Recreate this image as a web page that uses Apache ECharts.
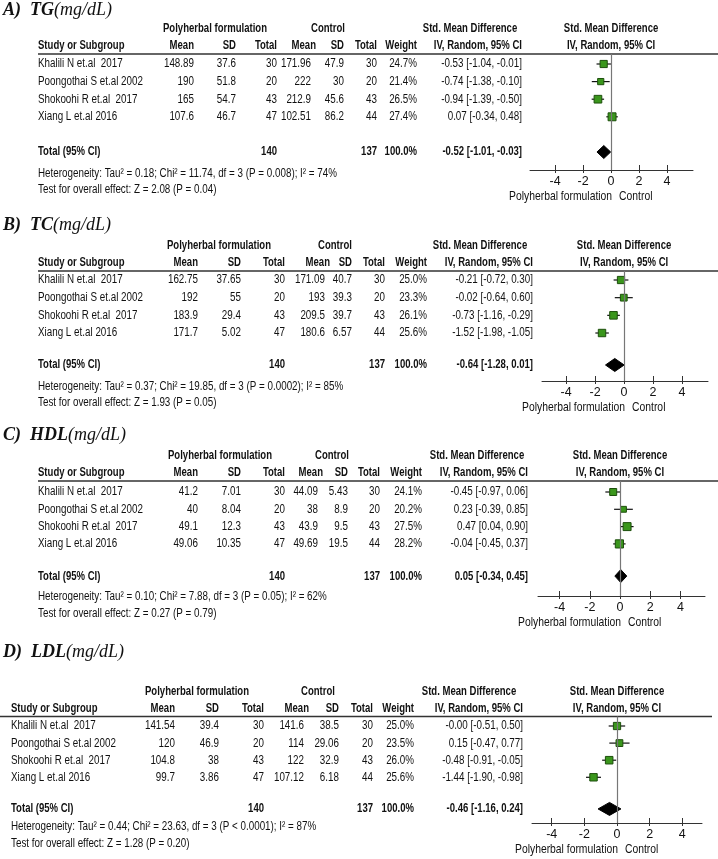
<!DOCTYPE html>
<html>
<head>
<meta charset="utf-8">
<script src="https://cdn.jsdelivr.net/npm/echarts@6/dist/echarts.min.js"></script>
<style>html,body{margin:0;padding:0;background:#fff}#c{width:718px;height:859px}</style>
</head>
<body>
<div id="c"></div>
<script>
// ---------------- DATA ----------------
const studies = ["Khalili N et.al  2017", "Poongothai S et.al 2002", "Shokoohi R et.al  2017", "Xiang L et.al 2016"];
const polyN = [30, 20, 43, 47];
const ctrlN = [30, 20, 43, 44];
const totalPolyN = 140;
const totalCtrlN = 137;
const tickValues = [-4, -2, 0, 2, 4];

const panelTitles = [["A)", "TG", "(mg/dL)"], ["B)", "TC", "(mg/dL)"], ["C)", "HDL", "(mg/dL)"], ["D)", "LDL", "(mg/dL)"]];

// TG
const tgPolyMean = [148.89, 190, 165, 107.6];
const tgPolySD = [37.6, 51.8, 54.7, 46.7];
const tgCtrlMean = [171.96, 222, 212.9, 102.51];
const tgCtrlSD = [47.9, 30, 45.6, 86.2];
const tgWeight = [24.7, 21.4, 26.5, 27.4];
const tgSMD = [-0.53, -0.74, -0.94, 0.07];
const tgLo = [-1.04, -1.38, -1.39, -0.34];
const tgHi = [-0.01, -0.10, -0.50, 0.48];
const tgTotal = [-0.52, -1.01, -0.03];
const tgHet = "Heterogeneity: Tau² = 0.18; Chi² = 11.74, df = 3 (P = 0.008); I² = 74%";
const tgTest = "Test for overall effect: Z = 2.08 (P = 0.04)";

// TC
const tcPolyMean = [162.75, 192, 183.9, 171.7];
const tcPolySD = [37.65, 55, 29.4, 5.02];
const tcCtrlMean = [171.09, 193, 209.5, 180.6];
const tcCtrlSD = [40.7, 39.3, 39.7, 6.57];
const tcWeight = [25.0, 23.3, 26.1, 25.6];
const tcSMD = [-0.21, -0.02, -0.73, -1.52];
const tcLo = [-0.72, -0.64, -1.16, -1.98];
const tcHi = [0.30, 0.60, -0.29, -1.05];
const tcTotal = [-0.64, -1.28, 0.01];
const tcHet = "Heterogeneity: Tau² = 0.37; Chi² = 19.85, df = 3 (P = 0.0002); I² = 85%";
const tcTest = "Test for overall effect: Z = 1.93 (P = 0.05)";

// HDL
const hdlPolyMean = [41.2, 40, 49.1, 49.06];
const hdlPolySD = [7.01, 8.04, 12.3, 10.35];
const hdlCtrlMean = [44.09, 38, 43.9, 49.69];
const hdlCtrlSD = [5.43, 8.9, 9.5, 19.5];
const hdlWeight = [24.1, 20.2, 27.5, 28.2];
const hdlSMD = [-0.45, 0.23, 0.47, -0.04];
const hdlLo = [-0.97, -0.39, 0.04, -0.45];
const hdlHi = [0.06, 0.85, 0.90, 0.37];
const hdlTotal = [0.05, -0.34, 0.45];
const hdlHet = "Heterogeneity: Tau² = 0.10; Chi² = 7.88, df = 3 (P = 0.05); I² = 62%";
const hdlTest = "Test for overall effect: Z = 0.27 (P = 0.79)";

// LDL
const ldlPolyMean = [141.54, 120, 104.8, 99.7];
const ldlPolySD = [39.4, 46.9, 38, 3.86];
const ldlCtrlMean = [141.6, 114, 122, 107.12];
const ldlCtrlSD = [38.5, 29.06, 32.9, 6.18];
const ldlWeight = [25.0, 23.5, 26.0, 25.6];
const ldlSMD = [-0.00, 0.15, -0.48, -1.44];
const ldlLo = [-0.51, -0.47, -0.91, -1.90];
const ldlHi = [0.50, 0.77, -0.05, -0.98];
const ldlTotal = [-0.46, -1.16, 0.24];
const ldlHet = "Heterogeneity: Tau² = 0.44; Chi² = 23.63, df = 3 (P < 0.0001); I² = 87%";
const ldlTest = "Test for overall effect: Z = 1.28 (P = 0.20)";

const panelData = [
  {pm: tgPolyMean, ps: tgPolySD, cm: tgCtrlMean, cs: tgCtrlSD, w: tgWeight, smd: tgSMD, lo: tgLo, hi: tgHi, tot: tgTotal, het: tgHet, test: tgTest},
  {pm: tcPolyMean, ps: tcPolySD, cm: tcCtrlMean, cs: tcCtrlSD, w: tcWeight, smd: tcSMD, lo: tcLo, hi: tcHi, tot: tcTotal, het: tcHet, test: tcTest},
  {pm: hdlPolyMean, ps: hdlPolySD, cm: hdlCtrlMean, cs: hdlCtrlSD, w: hdlWeight, smd: hdlSMD, lo: hdlLo, hi: hdlHi, tot: hdlTotal, het: hdlHet, test: hdlTest},
  {pm: ldlPolyMean, ps: ldlPolySD, cm: ldlCtrlMean, cs: ldlCtrlSD, w: ldlWeight, smd: ldlSMD, lo: ldlLo, hi: ldlHi, tot: ldlTotal, het: ldlHet, test: ldlTest}
];

// ---------------- LAYOUT ----------------
const W = 718, H = 859;
const layout = [
  {title: 10, h1: 29, h2: 46, line: 54, lineX: [38, 718], r0: 64, p: 17.6, totR: 5.0, axisY: 170, het: 174, test: 190,
   left: 530, right: 25, xmin: -5.8, xmax: 5.86, studyX: 38, polyC: 215, ctrlC: 328, smdC: 470,
   cols: [194, 236, 277, 311, 344, 377, 417, 522]},
  {title: 225, h1: 246, h2: 263, line: 271, lineX: [38, 718], r0: 280, p: 17.67, totR: 4.81, axisY: 381, het: 387, test: 403,
   left: 542, right: 10, xmin: -5.66, xmax: 5.79, studyX: 38, polyC: 219, ctrlC: 335, smdC: 480,
   cols: [198, 241, 285, 325, 352, 385, 427, 533]},
  {title: 435, h1: 456, h2: 473, line: 481, lineX: [38, 718], r0: 492, p: 17.3, totR: 4.86, axisY: 596, het: 597, test: 614,
   left: 538, right: 13, xmin: -5.43, xmax: 5.63, studyX: 38, polyC: 220, ctrlC: 332, smdC: 477,
   cols: [198, 241, 285, 318, 348, 380, 422, 528]},
  {title: 652, h1: 692, h2: 709, line: 716.5, lineX: [0, 712], r0: 726, p: 17.1, totR: 4.85, axisY: 823, het: 827, test: 844,
   left: 532, right: 16, xmin: -5.21, xmax: 5.21, studyX: 11, polyC: 197, ctrlC: 318, smdC: 469,
   cols: [175, 219, 264, 304, 339, 373, 414, 523]}
];

const FAM = '"Liberation Sans",Arial,sans-serif';
const F = '12.5px ' + FAM;
const FB = 'bold 12.5px ' + FAM;
const FL = '13px ' + FAM;
const TXT = '#111';

// horizontal condensing to mimic Arial Narrow (calibrated on reference text widths)
const mctx = document.createElement('canvas').getContext('2d');
function mw(s, font) { mctx.font = font; return mctx.measureText(s).width; }
const SX = 299 / mw(tgHet, F);
const SXB = 104 / mw('Polyherbal formulation', FB);
const SXL = 103 / mw('Polyherbal formulation', FL);

const fmt2 = v => (Object.is(v, -0) ? '-' : '') + v.toFixed(2);
const ciText = (e, l, h) => fmt2(e) + ' [' + fmt2(l) + ', ' + fmt2(h) + ']';

const graphics = [];
function txt(s, x, y, align, font) {
  font = font || F;
  const sx = font === FB ? SXB : (font === FL ? SXL : SX);
  graphics.push({type: 'text', silent: true, z: 10, x: x, y: y, scaleX: sx, scaleY: 1,
    style: {text: s, x: 0, y: 0, align: align || 'left', verticalAlign: 'middle', font: font, fill: TXT}});
}
function hline(x1, x2, y, w, c) {
  graphics.push({type: 'line', silent: true, z: 5, shape: {x1: x1, y1: y, x2: x2, y2: y}, style: {stroke: c || '#222', lineWidth: w || 1}});
}

const grids = [], xAxes = [], yAxes = [], series = [];

layout.forEach((L, k) => {
  const D = panelData[k];
  const gridW = W - L.left - L.right;
  const x0 = L.left + (0 - L.xmin) / (L.xmax - L.xmin) * gridW;
  const ymin = (L.line - L.r0) / L.p, ymax = (L.axisY - L.r0) / L.p;

  // title
  const t = panelTitles[k];
  graphics.push({type: 'text', silent: true, z: 10, style: {
    x: 3, y: L.title, verticalAlign: 'middle', align: 'left',
    text: '{b|' + t[0] + '  ' + t[1] + '}{i|' + t[2] + '}',
    rich: {
      b: {font: 'italic bold 18px "Liberation Serif","Times New Roman",serif', fill: '#111'},
      i: {font: 'italic 18px "Liberation Serif","Times New Roman",serif', fill: '#111'}
    }}});

  // headers
  txt('Polyherbal formulation', L.polyC, L.h1, 'center', FB);
  txt('Control', L.ctrlC, L.h1, 'center', FB);
  txt('Std. Mean Difference', L.smdC, L.h1, 'center', FB);
  txt('Std. Mean Difference', x0, L.h1, 'center', FB);
  txt('Study or Subgroup', L.studyX, L.h2, 'left', FB);
  const hdr = ['Mean', 'SD', 'Total', 'Mean', 'SD', 'Total', 'Weight', 'IV, Random, 95% CI'];
  hdr.forEach((h, j) => txt(h, L.cols[j] + (j === 3 ? 5 : 0), L.h2, 'right', FB));
  txt('IV, Random, 95% CI', x0, L.h2, 'center', FB);
  hline(L.lineX[0], L.lineX[1], L.line, 1.6, '#333');

  // rows
  studies.forEach((s, i) => {
    const y = L.r0 + i * L.p;
    txt(s, L.studyX, y, 'left');
    const vals = [String(D.pm[i]), String(D.ps[i]), String(polyN[i]), String(D.cm[i]), String(D.cs[i]), String(ctrlN[i]),
      D.w[i].toFixed(1) + '%', ciText(D.smd[i], D.lo[i], D.hi[i])];
    vals.forEach((v, j) => txt(v, L.cols[j], y, 'right'));
  });
  const ty = L.r0 + L.totR * L.p;
  txt('Total (95% CI)', L.studyX, ty, 'left', FB);
  txt(String(totalPolyN), L.cols[2], ty, 'right', FB);
  txt(String(totalCtrlN), L.cols[5], ty, 'right', FB);
  txt('100.0%', L.cols[6], ty, 'right', FB);
  txt(ciText(D.tot[0], D.tot[1], D.tot[2]), L.cols[7], ty, 'right', FB);
  txt(D.het, L.studyX, L.het, 'left');
  txt(D.test, L.studyX, L.test, 'left');
  txt('Polyherbal formulation', x0 + 1, L.axisY + 26, 'right', FL);
  txt('Control', x0 + 8, L.axisY + 26, 'left', FL);

  // forest grid
  grids.push({left: L.left, right: L.right, top: L.line, bottom: H - L.axisY, outerBoundsMode: 'none', containLabel: false});
  xAxes.push({gridIndex: k, type: 'value', min: L.xmin, max: L.xmax, position: 'bottom',
    axisLine: {show: true, onZero: false, lineStyle: {color: '#333', width: 1}},
    axisTick: {show: true, inside: true, length: 5, customValues: tickValues, lineStyle: {color: '#333'}},
    axisLabel: {show: true, customValues: tickValues, margin: 5, fontSize: 12.5, fontFamily: FAM, color: TXT},
    splitLine: {show: false}});
  xAxes.push({gridIndex: k, type: 'value', min: L.xmin, max: L.xmax, position: 'bottom',
    axisLine: {show: false, onZero: false},
    axisTick: {show: true, inside: false, length: 3, customValues: tickValues, lineStyle: {color: '#333'}},
    axisLabel: {show: false}, splitLine: {show: false}});
  yAxes.push({gridIndex: k, type: 'value', min: ymin, max: ymax, inverse: true, show: false});

  const studyData = studies.map((s, i) => [D.smd[i], D.lo[i], D.hi[i], i, D.w[i]]);
  series.push({
    type: 'custom', xAxisIndex: 2 * k, yAxisIndex: k, z: 3,
    data: studyData,
    renderItem: function (params, api) {
      const e = api.value(0), lo = api.value(1), hi = api.value(2), r = api.value(3), w = api.value(4);
      const pe = api.coord([e, r]), pl = api.coord([lo, r]), ph = api.coord([hi, r]);
      const sz = w * 0.29;
      return {type: 'group', children: [
        {type: 'line', shape: {x1: pl[0], y1: pl[1], x2: ph[0], y2: ph[1]}, style: {stroke: '#111', lineWidth: 1.2}},
        {type: 'rect', shape: {x: pe[0] - sz / 2, y: pe[1] - sz / 2, width: sz, height: sz},
         style: {fill: '#3a961c', stroke: '#1d4f0c', lineWidth: 1}}
      ]};
    },
    markLine: {silent: true, symbol: 'none', label: {show: false}, animation: false,
      lineStyle: {color: '#777', width: 1.2, type: 'solid'}, data: [{xAxis: 0}]}
  });
  series.push({
    type: 'custom', xAxisIndex: 2 * k, yAxisIndex: k, z: 4,
    data: [[D.tot[0], D.tot[1], D.tot[2], L.totR]],
    renderItem: function (params, api) {
      const e = api.value(0), lo = api.value(1), hi = api.value(2), r = api.value(3);
      const pe = api.coord([e, r]), pl = api.coord([lo, r]), ph = api.coord([hi, r]);
      const hh = 6.5;
      return {type: 'polygon', shape: {points: [[pl[0], pe[1]], [pe[0], pe[1] - hh], [ph[0], pe[1]], [pe[0], pe[1] + hh]]},
        style: {fill: '#000', stroke: '#000', lineWidth: 1}};
    }
  });
});

const chart = echarts.init(document.getElementById('c'), null, {renderer: 'canvas', width: W, height: H});
chart.setOption({
  backgroundColor: '#fff',
  animation: false,
  grid: grids, xAxis: xAxes, yAxis: yAxes, series: series,
  graphic: graphics
});
</script>
</body>
</html>
